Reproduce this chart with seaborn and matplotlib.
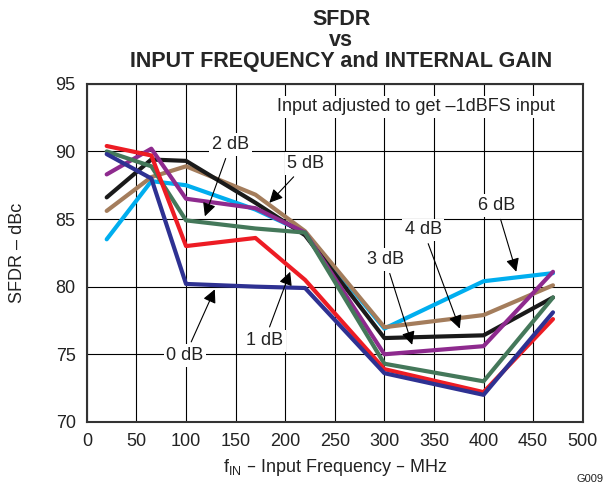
import pandas as pd
import matplotlib
matplotlib.use("Agg")
import matplotlib.pyplot as plt
import seaborn as sns

# Data
freq = [20, 65, 100, 170, 220, 300, 400, 470]
gain_0db = [89.8, 88.0, 80.2, 80.0, 79.9, 73.6, 72.0, 78.1]   # navy
gain_1db = [90.4, 89.7, 83.0, 83.6, 80.5, 73.9, 72.2, 77.6]   # red
gain_2db = [90.0, 88.9, 84.9, 84.3, 84.0, 74.3, 73.0, 79.2]   # green
gain_3db = [88.3, 90.2, 86.5, 85.8, 84.0, 75.0, 75.6, 81.1]   # purple
gain_4db = [86.6, 89.4, 89.3, 86.2, 83.8, 76.2, 76.4, 79.2]   # black
gain_5db = [85.6, 88.1, 88.9, 86.8, 84.1, 77.0, 77.9, 80.1]   # brown
gain_6db = [83.5, 87.8, 87.5, 85.7, 84.0, 76.9, 80.4, 81.0]   # cyan

series = {
    "0 dB": gain_0db, "1 dB": gain_1db, "2 dB": gain_2db, "3 dB": gain_3db,
    "4 dB": gain_4db, "5 dB": gain_5db, "6 dB": gain_6db,
}
colors = {
    "0 dB": "#2e3192", "1 dB": "#ed1c24", "2 dB": "#44785a", "3 dB": "#8e2a8e",
    "4 dB": "#1a1a1a", "5 dB": "#a47d5c", "6 dB": "#00aeef",
}
draw_order = ["6 dB", "5 dB", "4 dB", "3 dB", "2 dB", "1 dB", "0 dB"]

rows = []
for name in draw_order:
    for f, v in zip(freq, series[name]):
        rows.append({"freq": f, "sfdr": v, "gain": name})
df = pd.DataFrame(rows)

sns.set_theme(style="white")
plt.rcParams["font.family"] = ["Liberation Sans", "DejaVu Sans"]

fig = plt.figure(figsize=(6.16, 4.90), dpi=100)
ax = fig.add_axes([0.141, 0.139, 0.805, 0.690])

sns.lineplot(data=df, x="freq", y="sfdr", hue="gain", hue_order=draw_order,
             palette=colors, linewidth=3.0, legend=False, ax=ax, zorder=3,
             sort=False, estimator=None)

ax.set_xlim(0, 500)
ax.set_ylim(70, 95)
ax.set_xticks(range(0, 501, 50))
ax.set_yticks(range(70, 96, 5))
ax.grid(True, color="black", linewidth=0.8, zorder=0)
ax.set_axisbelow(True)
ax.tick_params(length=0, labelsize=13, colors="#222222", pad=8)
for s in ax.spines.values():
    s.set_color("#333333")
    s.set_linewidth(1.5)

ax.set_xlabel("f$_{\\mathregular{IN}}$ – Input Frequency – MHz", fontsize=13, color="#222222", labelpad=5)
ax.set_ylabel("SFDR – dBc", fontsize=13, color="#222222", labelpad=21)
ax.set_title("SFDR\nvs\nINPUT FREQUENCY and INTERNAL GAIN", fontsize=15.5,
             fontweight="bold", linespacing=1.0, pad=12, x=0.513)

box = dict(boxstyle="square,pad=0.15", facecolor="white", edgecolor="none")
ax.text(332, 93.3, "Input adjusted to get –1dBFS input", ha="center", va="center",
        fontsize=13, color="#222222", bbox=box, zorder=4)

# (label, text position, arrow tip)
notes = [
    ("2 dB", (145, 90.5), (119, 85.2)),
    ("5 dB", (221, 89.1), (184, 86.2)),
    ("6 dB", (413, 86.0), (433, 81.1)),
    ("4 dB", (339, 84.2), (376, 76.9)),
    ("3 dB", (301, 82.0), (328, 75.7)),
    ("1 dB", (179, 76.0), (205, 81.1)),
    ("0 dB", (99, 74.9), (129, 79.8)),
]
for label, txt, tip in notes:
    ax.annotate(label, xy=tip, xytext=txt, ha="center", va="center", fontsize=13,
                color="#222222", bbox=box, zorder=5,
                arrowprops=dict(arrowstyle="-|>", color="black", lw=0.8,
                                mutation_scale=20, shrinkA=2, shrinkB=0))

fig.text(0.98, 0.012, "G009", ha="right", va="bottom", fontsize=8, color="#222222")

fig.savefig("out.png", dpi=100)
